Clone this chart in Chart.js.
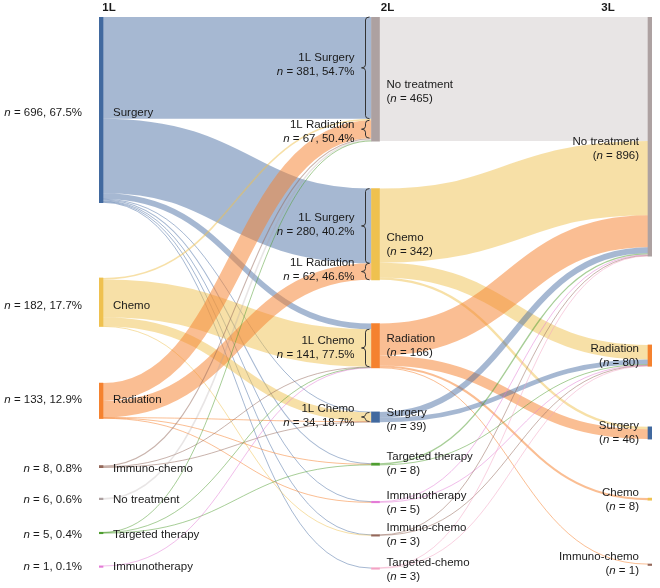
<!DOCTYPE html>
<html><head><meta charset="utf-8">
<script src="https://cdn.jsdelivr.net/npm/chart.js@4/dist/chart.umd.min.js"></script>
<style>html,body{margin:0;padding:0;background:#fff}#wrap{width:660px;height:588px;position:relative}</style>
</head><body><div id="wrap"><canvas id="c"></canvas></div>
<script>
// ---------- DATA ----------
const stageLabels = ['1L', '2L', '3L'];

const nodes1L  = ['Surgery', 'Chemo', 'Radiation', 'Immuno-chemo', 'No treatment', 'Targeted therapy', 'Immunotherapy'];
const counts1L = [696, 182, 133, 8, 6, 5, 1];
const pct1L    = ['67.5%', '17.7%', '12.9%', '0.8%', '0.6%', '0.4%', '0.1%'];

const nodes2L  = ['No treatment', 'Chemo', 'Radiation', 'Surgery', 'Targeted therapy', 'Immunotherapy', 'Immuno-chemo', 'Targeted-chemo'];
const counts2L = [465, 342, 166, 39, 8, 5, 3, 3];

const nodes3L  = ['No treatment', 'Radiation', 'Surgery', 'Chemo', 'Immuno-chemo'];
const counts3L = [896, 80, 46, 8, 1];

// 1L -> 2L flows
const flow12Source = ['Surgery','Surgery','Surgery','Surgery','Surgery','Surgery','Surgery','Surgery',
  'Chemo','Chemo','Chemo','Chemo',
  'Radiation','Radiation','Radiation','Radiation','Radiation',
  'Immuno-chemo','Immuno-chemo','Immuno-chemo',
  'No treatment',
  'Targeted therapy','Targeted therapy','Targeted therapy',
  'Immunotherapy'];
const flow12Target = ['No treatment','Chemo','Radiation','Surgery','Targeted therapy','Immunotherapy','Immuno-chemo','Targeted-chemo',
  'No treatment','Radiation','Surgery','Immuno-chemo',
  'No treatment','Chemo','Surgery','Targeted therapy','Immunotherapy',
  'No treatment','Radiation','Surgery',
  'No treatment',
  'No treatment','Radiation','Targeted therapy',
  'Radiation'];
const flow12Value = [381, 280, 21, 2, 4, 3, 2, 3,
  6, 141, 34, 1,
  67, 62, 1, 1, 2,
  4, 2, 2,
  6,
  1, 1, 3,
  1];

// 2L -> 3L flows
const flow23Source = ['No treatment','Chemo','Chemo','Chemo','Radiation','Radiation','Radiation','Radiation',
  'Surgery','Surgery','Targeted therapy','Targeted therapy','Immunotherapy','Immunotherapy',
  'Immuno-chemo','Immuno-chemo','Targeted-chemo','Targeted-chemo'];
const flow23Target = ['No treatment','No treatment','Radiation','Surgery','No treatment','Surgery','Chemo','Immuno-chemo',
  'No treatment','Radiation','No treatment','Radiation','No treatment','Radiation',
  'No treatment','Radiation','No treatment','Radiation'];
const flow23Value = [465, 278, 55, 9, 120, 37, 8, 1, 22, 17, 5, 3, 3, 2, 2, 1, 1, 2];

// bracket annotations at 2L (1L origin of the 2L regimen)
const bracketFrom = ['Surgery', 'Radiation', 'Surgery', 'Radiation', 'Chemo', 'Chemo'];
const bracketTo   = ['No treatment', 'No treatment', 'Chemo', 'Chemo', 'Radiation', 'Surgery'];
const bracketPct  = ['54.7%', '50.4%', '40.2%', '46.6%', '77.5%', '18.7%'];

// ---------- LAYOUT / STYLE (not data) ----------
const tops1L = [0, 978, 1372, 1681, 1803, 1931, 2057];
const tops2L = [0, 643, 1149, 1480, 1672, 1815, 1940, 2064];
const tops3L = [0, 1229, 1536, 1803, 2050];
const labelNudge1L = [3, 4, -1, 2, 1, 2, 1];
const labelNudge2L = [13, 11, 0, 3, 0, 1, 0, 2];
const labelNudge3L = [12, 0, 0, 1, 0];
const bracketNudge = [-3, 2.5, -1, -2, 0, -1.5];

const nodeColors = {
  'Surgery': '#41699f',
  'Chemo': '#efc14f',
  'Radiation': '#f5822f',
  'No treatment': '#ada1a1',
  'Immuno-chemo': '#94685a',
  'Targeted therapy': '#4f9e30',
  'Immunotherapy': '#e47bd6',
  'Targeted-chemo': '#f3a3c4'
};
const linkAlpha = { 'Surgery': 0.47, 'Chemo': 0.5, 'Radiation': 0.52, 'No treatment': 0.28 };
function hexA(hex, a) {
  const r = parseInt(hex.slice(1,3),16), g = parseInt(hex.slice(3,5),16), b = parseInt(hex.slice(5,7),16);
  return `rgba(${r},${g},${b},${a})`;
}
const NODE_W = 8;
const FONT_FAMILY = '"Liberation Sans", Arial, Helvetica, sans-serif';
const FS = 11.5;
const TEXT = '#1a1a1a';

// ---------- BUILD GRAPH ----------
const columns = [
  { names: nodes1L, counts: counts1L, tops: tops1L, nudge: labelNudge1L },
  { names: nodes2L, counts: counts2L, tops: tops2L, nudge: labelNudge2L },
  { names: nodes3L, counts: counts3L, tops: tops3L, nudge: labelNudge3L }
];
const nodes = [];
const nodeIndex = {};
columns.forEach((c, ci) => c.names.forEach((n, i) => {
  const node = { col: ci, idx: i, name: n, value: c.counts[i], top: c.tops[i], nudge: c.nudge[i], outs: [], ins: [] };
  nodes.push(node);
  nodeIndex[ci + '|' + n] = node;
}));
const links = [];
function addFlows(src, tgt, val, c0) {
  src.forEach((s, i) => {
    const l = { s: nodeIndex[c0 + '|' + s], t: nodeIndex[(c0 + 1) + '|' + tgt[i]], value: val[i] };
    links.push(l); l.s.outs.push(l); l.t.ins.push(l);
  });
}
addFlows(flow12Source, flow12Target, flow12Value, 0);
addFlows(flow23Source, flow23Target, flow23Value, 1);
nodes.forEach(n => {
  n.outs.sort((a, b) => a.t.idx - b.t.idx);
  let o = 0; n.outs.forEach(l => { l.sy = o; o += l.value; });
  n.ins.sort((a, b) => a.s.idx - b.s.idx);
  o = 0; n.ins.forEach(l => { l.ty = o; o += l.value; });
});

// ---------- DRAW HELPERS ----------
function font(italic, bold) { return `${italic ? 'italic ' : ''}${bold ? 'bold ' : ''}${FS}px ${FONT_FAMILY}`; }
function drawRich(ctx, parts, x, y, align) {
  const widths = parts.map(p => { ctx.font = font(p[1]); return ctx.measureText(p[0]).width; });
  const total = widths.reduce((a, b) => a + b, 0);
  let cx = align === 'right' ? x - total : x;
  ctx.textAlign = 'left';
  parts.forEach((p, i) => { ctx.font = font(p[1]); ctx.fillText(p[0], cx, y); cx += widths[i]; });
}

const sankeyPlugin = {
  id: 'sankeyLinks',
  beforeDatasetsDraw(chart) {
    const { ctx, scales: { x, y } } = chart;
    ctx.save();
    ctx.lineCap = 'butt';
    links.forEach(l => {
      const x0 = x.getPixelForValue(l.s.col) + NODE_W / 2;
      const x1 = x.getPixelForValue(l.t.col) - NODE_W / 2;
      const y0 = y.getPixelForValue(l.s.top + l.sy + l.value / 2);
      const y1 = y.getPixelForValue(l.t.top + l.ty + l.value / 2);
      const w = Math.abs(y.getPixelForValue(l.value) - y.getPixelForValue(0));
      const xm = (x0 + x1) / 2;
      ctx.beginPath();
      ctx.moveTo(x0, y0);
      ctx.bezierCurveTo(xm, y0, xm, y1, x1, y1);
      ctx.lineWidth = Math.max(w, 1);
      ctx.strokeStyle = hexA(nodeColors[l.s.name], linkAlpha[l.s.name] || 0.5);
      ctx.stroke();
    });
    ctx.restore();
  },
  afterDatasetsDraw(chart) {
    const { ctx, scales: { x, y } } = chart;
    ctx.save();
    ctx.fillStyle = TEXT;
    ctx.textBaseline = 'middle';

    // stage headers
    ctx.font = font(false, true);
    ctx.textAlign = 'center';
    const hx = [x.getPixelForValue(0) + 10, x.getPixelForValue(1) + 12, x.getPixelForValue(2) - 44];
    stageLabels.forEach((s, i) => ctx.fillText(s, hx[i], 7.5));

    nodes.forEach(n => {
      const cx = x.getPixelForValue(n.col);
      const cy = (y.getPixelForValue(n.top) + y.getPixelForValue(n.top + n.value)) / 2 + n.nudge;
      if (n.col === 0) {
        drawRich(ctx, [[n.name, false]], cx + 14, cy, 'left');
        drawRich(ctx, [['n', true], [' = ' + n.value + ', ' + pct1L[n.idx], false]], cx - 17, cy, 'right');
      } else if (n.col === 1) {
        drawRich(ctx, [[n.name, false]], cx + 11, cy - 7, 'left');
        drawRich(ctx, [['(', false], ['n', true], [' = ' + n.value + ')', false]], cx + 11, cy + 7, 'left');
      } else {
        drawRich(ctx, [[n.name, false]], cx - 13, cy - 7, 'right');
        drawRich(ctx, [['(', false], ['n', true], [' = ' + n.value + ')', false]], cx - 13, cy + 7, 'right');
      }
    });

    // brackets
    ctx.strokeStyle = '#333';
    ctx.lineWidth = 1;
    bracketFrom.forEach((f, i) => {
      const src = nodeIndex['0|' + f];
      const tgt = nodeIndex['1|' + bracketTo[i]];
      const l = links.find(k => k.s === src && k.t === tgt);
      const yT = y.getPixelForValue(tgt.top + l.ty);
      const yB = y.getPixelForValue(tgt.top + l.ty + l.value);
      const ym = (yT + yB) / 2;
      const left = x.getPixelForValue(1) - NODE_W / 2;
      const sx = left - 6, hxr = left - 2, px = left - 10;
      const r = Math.min(3, (yB - yT) / 4);
      ctx.beginPath();
      ctx.moveTo(hxr, yT);
      ctx.quadraticCurveTo(sx, yT, sx, yT + r);
      ctx.lineTo(sx, ym - r);
      ctx.quadraticCurveTo(sx, ym, px, ym);
      ctx.quadraticCurveTo(sx, ym, sx, ym + r);
      ctx.lineTo(sx, yB - r);
      ctx.quadraticCurveTo(sx, yB, hxr, yB);
      ctx.stroke();
      const ly = ym + bracketNudge[i];
      drawRich(ctx, [['1L ' + f, false]], left - 17, ly - 7, 'right');
      drawRich(ctx, [['n', true], [' = ' + l.value + ', ' + bracketPct[i], false]], left - 17, ly + 7, 'right');
    });
    ctx.restore();
  }
};

new Chart(document.getElementById('c'), {
  type: 'bar',
  data: {
    datasets: [{
      data: nodes.map(n => ({ x: n.col, y: [n.top, n.top + n.value] })),
      backgroundColor: nodes.map(n => nodeColors[n.name]),
      barThickness: NODE_W,
      minBarLength: 1.5,
      borderWidth: 0
    }]
  },
  options: {
    responsive: true,
    maintainAspectRatio: false,
    animation: false,
    layout: { padding: { left: 99, right: 8, top: 17, bottom: 8 } },
    scales: {
      x: { type: 'linear', min: 0, max: 2, display: false, offset: false },
      y: { type: 'linear', min: 0, max: 2110, reverse: true, display: false }
    },
    plugins: { legend: { display: false }, tooltip: { enabled: false } }
  },
  plugins: [sankeyPlugin]
});
</script>
</body></html>
